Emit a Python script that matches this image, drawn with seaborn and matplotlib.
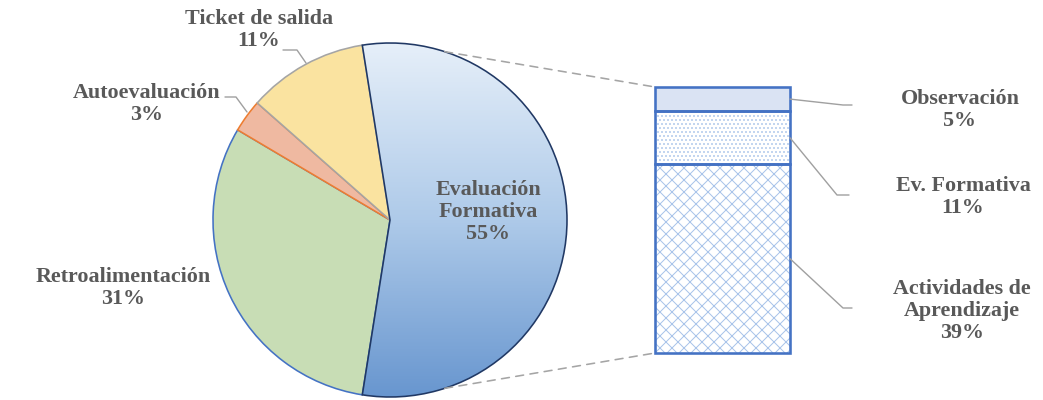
import numpy as np
import matplotlib
matplotlib.use("Agg")
import matplotlib.pyplot as plt
import seaborn as sns
from matplotlib.patches import ConnectionPatch
from matplotlib.lines import Line2D
from matplotlib.colors import LinearSegmentedColormap

# ---- data ----
pie_labels = ["Evaluación\nFormativa", "Ticket de salida", "Autoevaluación", "Retroalimentación"]
pie_values = [55, 11, 3, 31]
bar_labels = ["Actividades de\nAprendizaje", "Ev. Formativa", "Observación"]
bar_values = [39, 11, 5]

sns.set_theme(style="white")
plt.rcParams['font.family'] = ['Liberation Serif', 'DejaVu Serif']
plt.rcParams['hatch.linewidth'] = 1.0

DPI = 72
W, H = 1043, 400
fig = plt.figure(figsize=(W / DPI, H / DPI), dpi=DPI)
fig.patch.set_facecolor('white')


def fx(px):
    return px / W


def fy(py):
    return 1 - py / H


TXT = dict(fontsize=22, fontweight='bold', color='#595959', ha='center', va='center',
           linespacing=1.15)

# ---- pie ----
R = 177
cx, cy = 390, 220
ax_pie = fig.add_axes([fx(cx - R), fy(cy + R), 2 * R / W, 2 * R / H])
faces = ['none', '#FAE3A0', '#EFB9A1', '#C8DDB5']
edges = ['#203864', '#A5A5A5', '#ED7D31', '#4472C4']
zorders = [4, 3, 2, 1]
start = -pie_values[0] * 3.6 / 2
wedges, _ = ax_pie.pie(pie_values, startangle=start, counterclock=True, radius=1,
                       center=(0, 0), frame=False)
for w, f, e, z in zip(wedges, faces, edges, zorders):
    w.set_facecolor(f)
    w.set_edgecolor(e)
    w.set_linewidth(1.6)
    w.set_zorder(z)

cmap = LinearSegmentedColormap.from_list('ef', ['#E6EFF9', '#AECAE9', '#6896CF'])
grad = np.linspace(0, 1, 256).reshape(-1, 1)
im = ax_pie.imshow(grad, cmap=cmap, extent=(-1, 1, -1, 1), origin='upper',
                   aspect='auto', zorder=3.5)
im.set_clip_path(wedges[0])
ax_pie.set_xlim(-1, 1)
ax_pie.set_ylim(-1, 1)
ax_pie.set_aspect('auto')
ax_pie.axis('off')

# pie labels
pct = [f"{v}%" for v in pie_values]
fig.text(fx(488), fy(212), f"{pie_labels[0]}\n{pct[0]}", **TXT)
fig.text(fx(259), fy(30), f"{pie_labels[1]}\n{pct[1]}", **TXT)
fig.text(fx(147), fy(104), f"{pie_labels[2]}\n{pct[2]}", **TXT)
fig.text(fx(123), fy(288), f"{pie_labels[3]}\n{pct[3]}", **TXT)

LEAD = dict(color='#A0A0A0', lw=1.4, transform=fig.transFigure)
fig.add_artist(Line2D([fx(283), fx(297), fx(306)], [fy(50), fy(50), fy(63)], **LEAD))
fig.add_artist(Line2D([fx(225), fx(236), fx(247)], [fy(97), fy(97), fy(112)], **LEAD))

# ---- bar ----
ax_bar = fig.add_axes([fx(655), fy(353), fx(790) - fx(655), (353 - 87) / H])
bottoms = np.concatenate([[0], np.cumsum(bar_values)[:-1]])
hatches = ['xx', '...', '']
fills = ['white', 'white', '#DAE3F3']
for v, b, h, f in zip(bar_values, bottoms, hatches, fills):
    sns.barplot(x=[0], y=[v], bottom=b, width=1, color=f, saturation=1, errorbar=None,
                hatch=h, edgecolor='#A9C4EA', linewidth=0, ax=ax_bar)
for v, b in zip(bar_values, bottoms):
    sns.barplot(x=[0], y=[v], bottom=b, width=1, color='#4472C4', fill=False, saturation=1,
                errorbar=None, linewidth=2.6, ax=ax_bar)
ax_bar.set_xlim(-0.5, 0.5)
ax_bar.set_ylim(0, sum(bar_values))
ax_bar.axis('off')
for p in ax_bar.patches:
    p.set_clip_on(False)

# bar labels
bar_pos = [(962, 311), (963, 197), (960, 110)]
for lab, v, (px, py) in zip(bar_labels, bar_values, bar_pos):
    fig.text(fx(px), fy(py), f"{lab}\n{v}%", **TXT)

ends = [((843, 308), (852, 308)), ((837, 195), (849, 195)), ((843, 105), (852, 105))]
inv = fig.transFigure.inverted()
for v, b, (p1, p2) in zip(bar_values, bottoms, ends):
    s = inv.transform(ax_bar.transData.transform((0.5, b + v / 2)))
    fig.add_artist(Line2D([s[0], fx(p1[0]), fx(p2[0])], [s[1], fy(p1[1]), fy(p2[1])], **LEAD))

# ---- connectors ----
for ang, yb in [(72, sum(bar_values)), (-72, 0)]:
    a = np.radians(ang)
    con = ConnectionPatch(xyA=(np.cos(a), np.sin(a)), coordsA=ax_pie.transData,
                          xyB=(-0.5, yb), coordsB=ax_bar.transData,
                          color='#A5A5A5', lw=1.6, linestyle=(0, (5, 4)))
    fig.add_artist(con)

fig.savefig('out.png', dpi=DPI, facecolor='white')
